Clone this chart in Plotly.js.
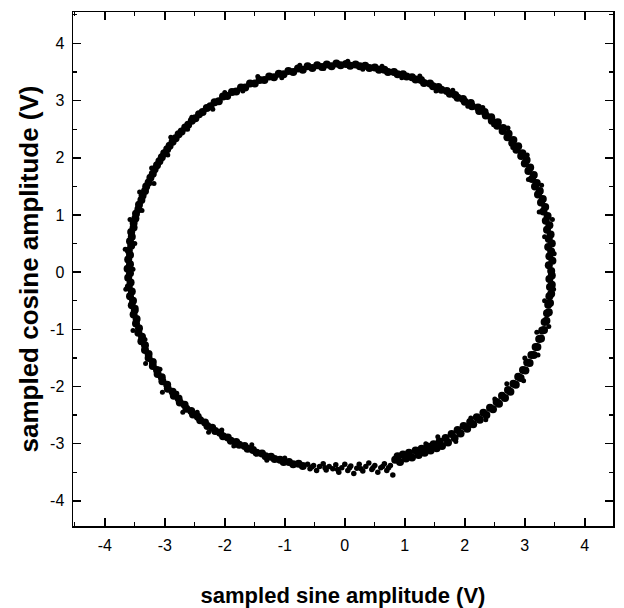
<!DOCTYPE html>
<html>
<head>
<meta charset="utf-8">
<script src="https://cdn.plot.ly/plotly-3.0.1.min.js"></script>
<style>html,body{margin:0;padding:0;background:#fff;}#chart{width:624px;height:608px;}</style>
</head>
<body>
<div id="chart"></div>
<script>
// Sampled sine (x) and sampled cosine (y) amplitudes, in volts
const sineQ1 = [3.44,3.40,3.46,3.41,3.44,3.39,3.45,3.40,3.43,3.37,3.41,3.35,3.38,3.31,3.34,3.27,3.30,3.22,3.25,3.17,3.20,3.12,3.15,3.06,3.09,3.00,3.03,2.94,2.96,2.86,2.89,2.79,2.81,2.71,2.73,2.63,2.64,2.54,2.55,2.45,2.44,2.35,2.33,2.24,2.22,2.12,2.10,2.00,1.97,1.88,1.84,1.75,1.70,1.61,1.56,1.47,1.42,1.32,1.27,1.18,1.12,1.03,0.97,0.88,0.82,0.72,0.66,0.57,0.50,0.41,0.34,0.25,0.18,0.09,0.02,-0.07,-0.14];
const cosineQ1 = [0.02,0.12,0.20,0.28,0.36,0.44,0.50,0.58,0.66,0.74,0.82,0.90,0.98,1.06,1.14,1.22,1.28,1.36,1.42,1.50,1.56,1.63,1.70,1.77,1.83,1.90,1.96,2.03,2.08,2.14,2.20,2.26,2.31,2.36,2.42,2.47,2.52,2.56,2.62,2.65,2.71,2.74,2.80,2.82,2.88,2.90,2.96,2.98,3.03,3.05,3.10,3.12,3.17,3.19,3.24,3.25,3.30,3.31,3.36,3.37,3.41,3.42,3.46,3.46,3.50,3.50,3.54,3.54,3.58,3.57,3.61,3.60,3.63,3.61,3.64,3.62,3.65];

const sineQ2 = [-0.22,-0.30,-0.38,-0.46,-0.54,-0.62,-0.70,-0.78,-0.86,-0.94,-1.02,-1.10,-1.18,-1.26,-1.34,-1.42,-1.50,-1.58,-1.66,-1.73,-1.81,-1.88,-1.96,-2.03,-2.10,-2.17,-2.24,-2.30,-2.37,-2.43,-2.49,-2.55,-2.61,-2.66,-2.72,-2.77,-2.82,-2.87,-2.92,-2.96,-3.01,-3.05,-3.09,-3.13,-3.17,-3.20,-3.24,-3.27,-3.31,-3.33,-3.37,-3.39,-3.43,-3.44,-3.48,-3.49,-3.52,-3.52,-3.56,-3.55,-3.58,-3.56,-3.60,-3.58,-3.61,-3.58,-3.62,-3.58];
const cosineQ2 = [3.60,3.63,3.59,3.62,3.57,3.60,3.54,3.56,3.50,3.52,3.46,3.47,3.41,3.42,3.36,3.36,3.30,3.30,3.23,3.23,3.16,3.15,3.08,3.07,2.99,2.97,2.90,2.87,2.80,2.76,2.69,2.65,2.58,2.53,2.46,2.41,2.34,2.28,2.21,2.15,2.08,2.01,1.94,1.87,1.80,1.72,1.65,1.57,1.50,1.42,1.34,1.26,1.18,1.10,1.02,0.94,0.86,0.78,0.70,0.62,0.54,0.46,0.38,0.30,0.22,0.14,0.06,-0.02];

const sineQ3 = [-3.61,-3.57,-3.60,-3.55,-3.58,-3.53,-3.55,-3.50,-3.52,-3.47,-3.48,-3.43,-3.44,-3.38,-3.39,-3.33,-3.33,-3.27,-3.27,-3.20,-3.20,-3.13,-3.12,-3.05,-3.04,-2.96,-2.95,-2.87,-2.85,-2.77,-2.75,-2.67,-2.64,-2.56,-2.53,-2.45,-2.41,-2.33,-2.29,-2.21,-2.16,-2.08,-2.03,-1.95,-1.90,-1.81,-1.76,-1.67,-1.62,-1.53,-1.47,-1.38,-1.32,-1.23,-1.17,-1.08,-1.02,-0.93,-0.86,-0.77,-0.70];
const cosineQ3 = [-0.10,-0.18,-0.26,-0.34,-0.42,-0.50,-0.58,-0.66,-0.74,-0.82,-0.90,-0.98,-1.06,-1.13,-1.21,-1.28,-1.36,-1.43,-1.50,-1.57,-1.64,-1.71,-1.78,-1.84,-1.91,-1.97,-2.04,-2.09,-2.16,-2.21,-2.28,-2.32,-2.39,-2.43,-2.49,-2.53,-2.59,-2.63,-2.69,-2.72,-2.78,-2.81,-2.87,-2.89,-2.95,-2.97,-3.02,-3.04,-3.09,-3.11,-3.16,-3.17,-3.22,-3.23,-3.27,-3.28,-3.32,-3.32,-3.36,-3.35,-3.39];

// bottom, where the samples scatter more
const sineBottom = [-0.62,-0.58,-0.52,-0.47,-0.42,-0.36,-0.31,-0.26,-0.20,-0.15,-0.10,-0.05,0.00,0.05,0.10,0.15,0.20,0.24,0.30,0.35,0.40,0.45,0.50,0.55,0.60,0.66,0.70,0.76,0.80,-0.55,-0.33,-0.12,0.08,0.27,0.47,0.63,0.73];
const cosineBottom = [-3.36,-3.44,-3.38,-3.47,-3.40,-3.35,-3.46,-3.40,-3.44,-3.37,-3.50,-3.42,-3.36,-3.47,-3.39,-3.52,-3.43,-3.36,-3.48,-3.40,-3.34,-3.45,-3.38,-3.50,-3.42,-3.35,-3.47,-3.38,-3.55,-3.41,-3.42,-3.45,-3.42,-3.44,-3.42,-3.40,-3.42];

const sineQ4 = [0.84,0.88,0.92,0.97,1.02,1.07,1.12,1.18,1.23,1.28,1.33,1.38,1.43,1.48,1.53,1.58,1.62,1.68,1.72,1.78,1.83,1.88,1.93,1.98,2.04,2.09,2.14,2.20,2.25,2.31,2.36,2.42,2.47,2.53,2.57,2.62,2.67,2.72,2.76,2.81,2.85,2.89,2.93,2.97,3.01,3.04,3.08,3.11,3.15,3.18,3.21,3.24,3.27,3.29,3.32,3.33,3.36,3.37,3.40,3.39,3.42,3.41,3.44,3.42,3.45,3.41,3.45];
const cosineQ4 = [-3.28,-3.22,-3.32,-3.19,-3.26,-3.16,-3.24,-3.12,-3.20,-3.09,-3.16,-3.05,-3.12,-3.01,-3.08,-2.96,-3.04,-2.90,-2.98,-2.83,-2.90,-2.76,-2.82,-2.69,-2.74,-2.62,-2.66,-2.54,-2.58,-2.46,-2.50,-2.37,-2.40,-2.27,-2.30,-2.16,-2.20,-2.06,-2.09,-1.95,-1.97,-1.83,-1.85,-1.71,-1.72,-1.58,-1.59,-1.45,-1.45,-1.31,-1.31,-1.17,-1.16,-1.02,-1.01,-0.87,-0.85,-0.72,-0.70,-0.57,-0.54,-0.42,-0.38,-0.26,-0.22,-0.12,-0.06];

// samples lying off the main band (rough edges)
const sineStray = [3.49,3.33,3.46,3.24,3.28,3.06,3.04,2.80,2.72,2.48,2.30,2.05,1.80,1.52,1.25,0.95,0.62,0.30,0.05,-0.35,-0.75,-1.05,-1.45,-1.70,-2.00,-2.20,-2.55,-2.62,-2.90,-2.95,-3.22,-3.18,-3.42,-3.38,-3.58,-3.50,-3.66,-3.53,-3.65,-3.48,-3.53,-3.33,-3.32,-3.08,-3.04,-2.80,-2.70,-2.46,-2.27,-2.05,-1.85,-1.55,-1.30,-1.00,1.35,1.55,1.85,2.10,2.35,2.50,2.70,2.98,3.00,3.22,3.20,3.40,3.33,3.48];
const cosineStray = [0.32,0.62,0.92,1.05,1.52,1.62,2.05,2.18,2.52,2.58,2.88,2.90,3.18,3.17,3.43,3.40,3.60,3.55,3.69,3.56,3.62,3.40,3.42,3.17,3.14,2.85,2.71,2.50,2.36,2.05,1.82,1.55,1.40,1.08,0.92,0.50,0.40,0.05,-0.30,-0.62,-1.02,-1.18,-1.60,-1.70,-2.10,-2.12,-2.45,-2.45,-2.80,-2.76,-3.04,-3.02,-3.29,-3.25,-3.00,-2.88,-2.96,-2.55,-2.58,-2.22,-1.95,-1.90,-1.50,-1.45,-1.05,-0.95,-0.50,-0.30];

const tickValues = [-4,-3,-2,-1,0,1,2,3,4];
const tickLabels = ['-4','-3','-2','-1','0','1','2','3','4'];

const xTitle = 'sampled sine amplitude (V)';
const yTitle = 'sampled cosine amplitude (V)';

const bandSets = [[sineQ1,cosineQ1],[sineQ2,cosineQ2],[sineQ3,cosineQ3],[sineQ4,cosineQ4]];
const traces = bandSets.map(q => ({
  x: q[0], y: q[1], type: 'scatter', mode: 'markers',
  marker: {color: '#000', size: 8, line: {width: 0}},
  showlegend: false, hoverinfo: 'skip'
}));
traces.push({
  x: sineBottom, y: cosineBottom, type: 'scatter', mode: 'markers',
  marker: {color: '#000', size: 5.5, line: {width: 0}},
  showlegend: false, hoverinfo: 'skip'
});
traces.push({
  x: sineStray, y: cosineStray, type: 'scatter', mode: 'markers',
  marker: {color: '#000', size: 5, line: {width: 0}},
  showlegend: false, hoverinfo: 'skip'
});

const fontFam = '"Liberation Sans", Arial, Helvetica, sans-serif';
function axis(range, title, tsize, standoff) {
  return {
    range: range, autorange: false,
    tickmode: 'array', tickvals: tickValues, ticktext: tickLabels,
    ticks: 'inside', ticklen: 8, tickwidth: 1.5, tickcolor: '#000',
    showline: true, linecolor: '#000', linewidth: 1.5, mirror: 'allticks',
    showgrid: false, zeroline: false,
    minor: {tick0: 0, dtick: 0.5, ticks: 'inside', ticklen: 4, tickwidth: 1.2, tickcolor: '#000', showgrid: false},
    tickfont: {family: fontFam, size: 16, color: '#000'},
    ticklabelstandoff: 4,
    title: {text: '<b>' + title + '</b>', font: {family: fontFam, size: tsize, color: '#000'}, standoff: standoff},
    automargin: false
  };
}

const layout = {
  width: 624, height: 608,
  margin: {l: 73, r: 11, t: 12, b: 82},
  paper_bgcolor: '#fff', plot_bgcolor: '#fff',
  xaxis: axis([-4.53, 4.47], xTitle, 22, 36),
  yaxis: axis([-4.44, 4.55], yTitle, 26, 4),
  showlegend: false
};

Plotly.newPlot('chart', traces, layout, {displayModeBar: false, staticPlot: true});
</script>
</body>
</html>
